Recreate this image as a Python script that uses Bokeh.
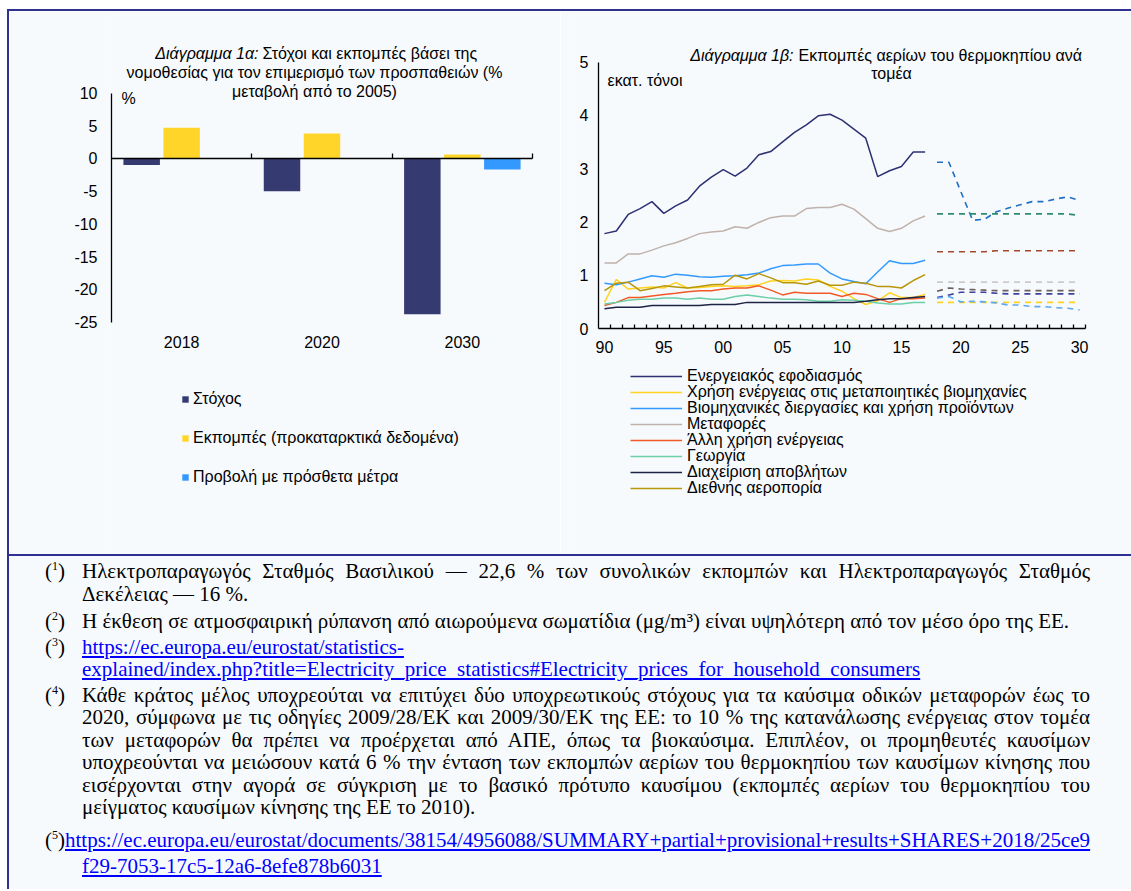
import numpy as np
from bokeh.plotting import figure
from bokeh.models import (Range1d, LinearAxis, FixedTicker, Label, Legend, LegendItem,
                          ColumnDataSource, Div)
from bokeh.transform import dodge
from bokeh.layouts import column, row
from bokeh.embed import file_html
from bokeh.resources import INLINE

BG = "#f6fafd"
NAVY = "#2e3192"
FONT = "Liberation Sans"

# ---------------- Chart 1a data ----------------
periods = ["2018", "2020", "2030"]
target = [-1.0, -5.0, -23.8]
emissions = [4.7, 3.8, 0.6]
projection = [np.nan, np.nan, -1.7]
bar_names = ["Στόχος", "Εκπομπές (προκαταρκτικά δεδομένα)", "Προβολή με πρόσθετα μέτρα"]
bar_colors = ["#353a70", "#ffd52a", "#3399ff"]
bar_y_ticks = [10, 5, 0, -5, -10, -15, -20, -25]

# ---------------- Chart 1b data ----------------
years_hist = list(range(1990, 2018))
energy_supply = [1.78, 1.83, 2.14, 2.25, 2.38, 2.16, 2.30, 2.41, 2.67, 2.84, 2.98, 2.86, 3.01, 3.26,
                 3.32, 3.50, 3.68, 3.82, 3.99, 4.02, 3.91, 3.74, 3.57, 2.85, 2.96, 3.04, 3.31, 3.31]
manufacturing = [0.49, 0.92, 0.74, 0.76, 0.78, 0.76, 0.86, 0.76, 0.77, 0.79, 0.80, 0.79, 0.80, 0.82,
                 0.89, 0.90, 0.89, 0.93, 0.91, 0.79, 0.70, 0.56, 0.45, 0.52, 0.67, 0.58, 0.58, 0.64]
industrial = [0.85, 0.82, 0.87, 0.93, 0.99, 0.96, 1.02, 1.00, 0.97, 0.96, 0.98, 0.99, 1.01, 1.04,
              1.12, 1.18, 1.19, 1.21, 1.21, 1.04, 0.93, 0.88, 0.84, 1.06, 1.27, 1.22, 1.22, 1.28]
transport = [1.23, 1.23, 1.40, 1.40, 1.47, 1.55, 1.61, 1.69, 1.78, 1.81, 1.83, 1.91, 1.88, 1.99,
             2.08, 2.11, 2.11, 2.25, 2.27, 2.27, 2.33, 2.24, 2.06, 1.88, 1.82, 1.88, 2.02, 2.11]
other_energy = [0.43, 0.49, 0.58, 0.58, 0.61, 0.64, 0.66, 0.69, 0.71, 0.71, 0.74, 0.76, 0.76, 0.80,
                0.72, 0.63, 0.68, 0.66, 0.66, 0.66, 0.60, 0.66, 0.64, 0.56, 0.49, 0.56, 0.56, 0.57]
agriculture = [0.46, 0.49, 0.53, 0.55, 0.55, 0.57, 0.57, 0.55, 0.57, 0.55, 0.55, 0.60, 0.63, 0.60,
               0.57, 0.55, 0.55, 0.54, 0.51, 0.51, 0.54, 0.53, 0.51, 0.48, 0.46, 0.46, 0.49, 0.49]
waste = [0.37, 0.40, 0.40, 0.40, 0.43, 0.43, 0.43, 0.43, 0.43, 0.45, 0.45, 0.45, 0.49, 0.49,
         0.49, 0.49, 0.49, 0.49, 0.49, 0.49, 0.49, 0.49, 0.51, 0.54, 0.56, 0.56, 0.58, 0.60]
aviation = [0.71, 0.85, 0.87, 0.71, 0.75, 0.80, 0.78, 0.76, 0.79, 0.82, 0.83, 1.00, 0.93, 1.03,
            0.95, 0.86, 0.86, 0.83, 0.89, 0.81, 0.81, 0.87, 0.85, 0.79, 0.79, 0.76, 0.90, 1.01]

hist_names = ["Ενεργειακός εφοδιασμός",
              "Χρήση ενέργειας στις μεταποιητικές βιομηχανίες",
              "Βιομηχανικές διεργασίες και χρήση προϊόντων",
              "Μεταφορές",
              "Άλλη χρήση ενέργειας",
              "Γεωργία",
              "Διαχείριση αποβλήτων",
              "Διεθνής αεροπορία"]
hist_series = [energy_supply, manufacturing, industrial, transport, other_energy,
               agriculture, waste, aviation]
hist_colors = ["#2e3172", "#ffd320", "#3399ff", "#c0b2aa", "#f15a24", "#6ccfa6", "#1e2447", "#b8960a"]

years_proj = list(range(2018, 2031))
proj_blue = [3.12, 3.12, 2.57, 2.03, 2.05, 2.19, 2.26, 2.32, 2.38, 2.38, 2.43, 2.47, 2.40]
proj_green = [2.15, 2.15, 2.15, 2.15, 2.15, 2.15, 2.15, 2.15, 2.15, 2.15, 2.15, 2.15, 2.12]
proj_brown = [1.44, 1.44, 1.44, 1.44, 1.44, 1.46, 1.46, 1.46, 1.46, 1.46, 1.46, 1.46, 1.46]
proj_lightgrey = [0.87, 0.87, 0.87, 0.87, 0.87, 0.87, 0.87, 0.87, 0.87, 0.87, 0.87, 0.87, 0.87]
proj_darkgrey = [0.70, 0.76, 0.74, 0.73, 0.72, 0.71, 0.71, 0.71, 0.71, 0.71, 0.71, 0.71, 0.71]
proj_navy = [0.58, 0.63, 0.68, 0.68, 0.68, 0.66, 0.65, 0.65, 0.65, 0.65, 0.65, 0.65, 0.65]
proj_yellow = [0.49, 0.49, 0.49, 0.49, 0.49, 0.49, 0.49, 0.49, 0.49, 0.49, 0.49, 0.49, 0.49]
proj_lightblue = [0.57, 0.60, 0.50, 0.51, 0.50, 0.48, 0.44, 0.44, 0.41, 0.41, 0.39, 0.38, 0.35]
proj_series = [proj_blue, proj_green, proj_brown, proj_lightgrey, proj_darkgrey,
               proj_navy, proj_yellow, proj_lightblue]
proj_colors = ["#1f6fc6", "#2e8b70", "#a34a2b", "#cfcaca", "#6b5e5e", "#40409f", "#ffd320", "#5aa8f0"]

line_y_ticks = [0, 1, 2, 3, 4, 5]
line_label_years = list(range(1990, 2031, 5))

# ---------------- page layout (pixels) ----------------
PAGE_L, PAGE_T = 7, 9
FIG_T, FIG_H = 11, 543            # figures occupy y 11..554
P1_X0, P1_W = 9, 551              # left figure  x 9..560
P2_X0, P2_W = 560, 571            # right figure x 560..1131
F1_L, F1_R, F1_Y10, F1_YM25 = 111, 532, 92.5, 321.5      # axis geometry of chart 1a
F2_L, F2_R, F2_Y5, F2_Y0 = 598, 1085, 61.5, 328.0        # axis geometry of chart 1b
F2_FRAME_L = 568
FIG_B = FIG_T + FIG_H

n_cat = len(periods)
k1x = (F1_R - F1_L) / n_cat
k1y = (F1_YM25 - F1_Y10) / 35.0
x1_end = n_cat + (P1_X0 + P1_W - F1_R) / k1x
y1_end = 10 + (F1_Y10 - FIG_T) / k1y
y1_start = -25 - (FIG_B - F1_YM25) / k1y

x2_start, x2_stop = 1989.5, 2030.5
k2x = (F2_R - F2_L) / (x2_stop - x2_start)
k2y = (F2_Y0 - F2_Y5) / 5.0
x2_lo = x2_start - (F2_L - F2_FRAME_L) / k2x
x2_end = x2_stop + (P2_X0 + P2_W - F2_R) / k2x
y2_end = 5 + (F2_Y5 - FIG_T) / k2y
y2_start = -(FIG_B - F2_Y0) / k2y


def ax1(px): return (px - F1_L) / k1x
def ay1(py): return 10 - (py - F1_Y10) / k1y
def ax2(px): return x2_start + (px - F2_L) / k2x
def ay2(py): return (F2_Y0 - py) / k2y


# ---------------- Chart 1a ----------------
p1 = figure(width=P1_W, height=FIG_H, x_range=Range1d(0, x1_end), y_range=Range1d(y1_start, y1_end),
            output_backend="svg", toolbar_location=None,
            x_axis_location=None, y_axis_location=None,
            min_border_left=F1_L - P1_X0, min_border_right=0, min_border_top=0, min_border_bottom=0,
            background_fill_color=BG, border_fill_color=BG, outline_line_color=None)
p1.grid.visible = False

yax1 = LinearAxis(ticker=FixedTicker(ticks=bar_y_ticks), bounds=(-25, 10),
                  major_label_overrides={t: str(t) for t in bar_y_ticks},
                  major_tick_in=0, major_tick_out=0,
                  minor_tick_line_color=None, major_label_standoff=14,
                  major_label_text_font=FONT, major_label_text_font_size="16px",
                  major_label_text_color="black", axis_line_color="black", axis_line_width=1.3)
p1.add_layout(yax1, "left")

centers = [i + 0.5 for i in range(n_cat)]
xlab1 = LinearAxis(fixed_location=-25, bounds=(0, n_cat), ticker=FixedTicker(ticks=centers),
                   major_label_overrides={c: s for c, s in zip(centers, periods)},
                   axis_line_color=None, major_tick_line_color=None, minor_tick_line_color=None,
                   major_label_standoff=8, major_label_text_font=FONT,
                   major_label_text_font_size="16px", major_label_text_color="black")
p1.add_layout(xlab1, "below")

bounds = [i + 1 for i in range(n_cat)]
zero_ax = LinearAxis(fixed_location=0, bounds=(0, n_cat), ticker=FixedTicker(ticks=bounds),
                     major_label_overrides={b: "" for b in bounds},
                     major_tick_in=5, major_tick_out=0, minor_tick_line_color=None,
                     axis_line_color="black", axis_line_width=1.3,
                     major_tick_line_color="black", major_tick_line_width=1.3)
p1.add_layout(zero_ax, "below")

src1 = ColumnDataSource(dict(x=np.array(centers), target=np.array(target),
                             emissions=np.array(emissions), projection=np.array(projection)))
r_t = p1.vbar(x=dodge("x", -0.285), top="target", bottom=0, width=0.26,
              fill_color=bar_colors[0], line_color=None, source=src1)
r_e = p1.vbar(x=dodge("x", 0.0), top="emissions", bottom=0, width=0.26,
              fill_color=bar_colors[1], line_color=None, source=src1)
r_p = p1.vbar(x=dodge("x", 0.285), top="projection", bottom=0, width=0.26,
              fill_color=bar_colors[2], line_color=None, source=src1)

leg1 = Legend(items=[LegendItem(label=bar_names[0], renderers=[r_t]),
                     LegendItem(label=bar_names[1], renderers=[r_e]),
                     LegendItem(label=bar_names[2], renderers=[r_p])],
              location=(181 - F1_L, FIG_B - 486), orientation="vertical",
              glyph_width=8, glyph_height=8, label_height=16, spacing=21,
              padding=0, margin=0, label_standoff=4,
              label_text_font=FONT, label_text_font_size="16px", label_text_color="black",
              border_line_color=None, background_fill_alpha=0)
p1.add_layout(leg1)

tkw = dict(text_font=FONT, text_font_size="16px", text_color="black", text_baseline="middle")
p1.add_layout(Label(x=ax1(258), y=ay1(53.3), text="Διάγραμμα 1α:", text_align="right",
                    text_font_style="italic", **tkw))
p1.add_layout(Label(x=ax1(262), y=ay1(53.3), text="Στόχοι και εκπομπές βάσει της",
                    text_align="left", **tkw))
p1.add_layout(Label(x=ax1(314), y=ay1(71.7), text="νομοθεσίας για τον επιμερισμό των προσπαθειών (%",
                    text_align="center", **tkw))
p1.add_layout(Label(x=ax1(314), y=ay1(91.0), text="μεταβολή από το 2005)", text_align="center", **tkw))
p1.add_layout(Label(x=ax1(121), y=ay1(97.5), text="%", text_align="left", **tkw))

# ---------------- Chart 1b ----------------
p2 = figure(width=P2_W, height=FIG_H, x_range=Range1d(x2_lo, x2_end), y_range=Range1d(y2_start, y2_end),
            output_backend="svg", toolbar_location=None,
            x_axis_location=None, y_axis_location=None,
            min_border_left=F2_FRAME_L - P2_X0, min_border_right=0, min_border_top=0, min_border_bottom=0,
            background_fill_color=BG, border_fill_color=BG, outline_line_color=None)
p2.grid.visible = False

yax2 = LinearAxis(fixed_location=x2_start, ticker=FixedTicker(ticks=line_y_ticks), bounds=(0, 5),
                  major_tick_in=0, major_tick_out=0,
                  minor_tick_line_color=None, major_label_standoff=10,
                  major_label_text_font=FONT, major_label_text_font_size="16px",
                  major_label_text_color="black", axis_line_color="black", axis_line_width=1.3)
p2.add_layout(yax2, "left")

minor_b = [y + 0.5 for y in range(1990, 2031)]
xax2 = LinearAxis(fixed_location=0, bounds=(x2_start, x2_stop),
                  ticker=FixedTicker(ticks=line_label_years, minor_ticks=minor_b),
                  major_label_overrides={y: "%02d" % (y % 100) for y in line_label_years},
                  major_tick_in=0, major_tick_out=0, major_tick_line_color=None,
                  minor_tick_in=4, minor_tick_out=0, minor_tick_line_color="black",
                  minor_tick_line_width=1.3, major_label_standoff=12,
                  major_label_text_font=FONT, major_label_text_font_size="16px",
                  major_label_text_color="black", axis_line_color="black", axis_line_width=1.3)
p2.add_layout(xax2, "below")

for ys, col in zip(proj_series, proj_colors):
    p2.line(years_proj, ys, line_color=col, line_width=1.6, line_dash="6 5")

hist_renderers = []
for ys, col in zip(hist_series, hist_colors):
    hist_renderers.append(p2.line(years_hist, ys, line_color=col, line_width=1.5))

# legend rows are 16 px apart: two interleaved legends (odd and even entries)
leg_kw = dict(orientation="vertical", glyph_width=52, glyph_height=16, label_height=16, spacing=14,
              padding=0, margin=0, label_standoff=5,
              label_text_font=FONT, label_text_font_size="16px", label_text_color="black",
              border_line_color=None, background_fill_alpha=0)
items = [LegendItem(label=n, renderers=[r]) for n, r in zip(hist_names, hist_renderers)]
leg2a = Legend(items=items[0::2], location=(630 - F2_FRAME_L, FIG_B - 481), **leg_kw)
leg2b = Legend(items=items[1::2], location=(630 - F2_FRAME_L, FIG_B - 497), **leg_kw)
p2.add_layout(leg2a)
p2.add_layout(leg2b)

p2.add_layout(Label(x=ax2(793), y=ay2(55), text="Διάγραμμα 1β:", text_align="right",
                    text_font_style="italic", **tkw))
p2.add_layout(Label(x=ax2(798), y=ay2(55), text="Εκπομπές αερίων του θερμοκηπίου ανά",
                    text_align="left", **tkw))
p2.add_layout(Label(x=ax2(891), y=ay2(73.3), text="τομέα", text_align="center", **tkw))
p2.add_layout(Label(x=ax2(607), y=ay2(80), text="εκατ. τόνοι", text_align="left", **tkw))

# ---------------- Frame borders & footnotes ----------------
TOT_W = 1131 - PAGE_L
top_border = Div(text="", width=TOT_W, height=2, margin=0, styles={"background-color": NAVY})
left_border = Div(text="", width=2, height=FIG_H, margin=0, styles={"background-color": NAVY})
bottom_border = Div(text="", width=TOT_W, height=2, margin=0, styles={"background-color": NAVY})

SUP = '<sup style="font-size:12px;line-height:0">%s</sup>'
LINK = 'color:#0000ff;text-decoration:underline;'
J = 'text-align:justify;text-align-last:justify;'


def note(num, lines, gap):
    body = "".join('<div style="%s">%s</div>' % (J if i < len(lines) - 1 else "", ln)
                   for i, ln in enumerate(lines))
    return ('<div style="position:relative;padding-left:73px;margin-top:%dpx">'
            '<span style="position:absolute;left:36px;top:0">(%s)</span>%s</div>'
            % (gap, SUP % num, body))


fn_html = ('<div style="font-family:\'Liberation Serif\',serif;font-size:21px;line-height:22.5px;'
           'color:#000;padding:4px 26px 0 0;">')
fn_html += note("1", ["Ηλεκτροπαραγωγός Σταθμός Βασιλικού — 22,6 % των συνολικών εκπομπών και Ηλεκτροπαραγωγός Σταθμός",
                      "Δεκέλειας — 16 %."], 0)
fn_html += note("2", ["Η έκθεση σε ατμοσφαιρική ρύπανση από αιωρούμενα σωματίδια (μg/m³) είναι υψηλότερη από τον μέσο όρο της ΕΕ."], 5)
fn_html += ('<div style="position:relative;padding-left:73px;margin-top:3px">'
            '<span style="position:absolute;left:36px;top:0">(%s)</span>'
            '<span style="%s">https://ec.europa.eu/eurostat/statistics-<br>'
            'explained/index.php?title=Electricity_price_statistics#Electricity_prices_for_household_consumers</span></div>'
            % (SUP % "3", LINK))
fn_html += note("4", ["Κάθε κράτος μέλος υποχρεούται να επιτύχει δύο υποχρεωτικούς στόχους για τα καύσιμα οδικών μεταφορών έως το",
                      "2020, σύμφωνα με τις οδηγίες 2009/28/ΕΚ και 2009/30/ΕΚ της ΕΕ: το 10 % της κατανάλωσης ενέργειας στον τομέα",
                      "των μεταφορών θα πρέπει να προέρχεται από ΑΠΕ, όπως τα βιοκαύσιμα. Επιπλέον, οι προμηθευτές καυσίμων",
                      "υποχρεούνται να μειώσουν κατά 6 % την ένταση των εκπομπών αερίων του θερμοκηπίου των καυσίμων κίνησης που",
                      "εισέρχονται στην αγορά σε σύγκριση με το βασικό πρότυπο καυσίμου (εκπομπές αερίων του θερμοκηπίου του",
                      "μείγματος καυσίμων κίνησης της ΕΕ το 2010)."], 3)
fn_html += ('<div style="padding-left:36px;margin-top:9px;line-height:25px;white-space:nowrap">(%s)'
            '<span style="%s">https://ec.europa.eu/eurostat/documents/38154/4956088/SUMMARY+partial+provisional+results+SHARES+2018/25ce9</span></div>'
            '<div style="padding-left:73px;line-height:26px"><span style="%s">f29-7053-17c5-12a6-8efe878b6031</span></div>'
            % (SUP % "5", LINK, LINK))
fn_html += '</div>'

footnotes = Div(text=fn_html, width=TOT_W, height=891 - PAGE_T - 2 - FIG_H - 2 - 2, margin=0,
                styles={"background-color": BG, "border-left": "2px solid " + NAVY,
                        "box-sizing": "border-box", "overflow": "hidden"})

layout = column(top_border,
                row(left_border, p1, p2, spacing=0),
                bottom_border,
                footnotes, spacing=0, margin=(PAGE_T, 0, 0, PAGE_L))

open("out.html", "w").write(file_html(layout, INLINE))
